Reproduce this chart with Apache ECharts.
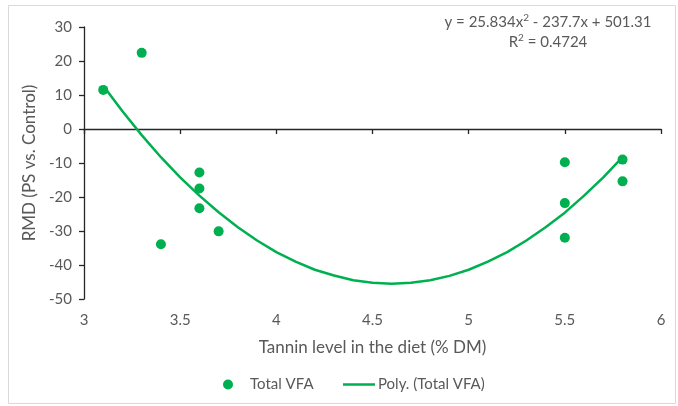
<!DOCTYPE html>
<html><head><meta charset="utf-8">
<script src="https://cdn.jsdelivr.net/npm/echarts@6/dist/echarts.min.js"></script>
<style>html,body{margin:0;padding:0;background:#fff}#c{width:678px;height:406px}</style>
</head><body><div id="c"></div>
<script>
// Observed points: tannin level (% DM) vs RMD
const tanninX = [3.1, 3.3, 3.4, 3.6, 3.6, 3.6, 3.7, 5.5, 5.5, 5.5, 5.8, 5.8];
const rmdY    = [11.5, 22.4, -33.9, -12.8, -17.5, -23.3, -30.1, -9.8, -21.8, -32.0, -9.0, -15.4];
// Trend line points
const trendX = [3.1, 3.2, 3.3, 3.4, 3.5, 3.6, 3.7, 3.8, 3.9, 4.0, 4.1, 4.2, 4.3, 4.4, 4.5, 4.6, 4.7, 4.8, 4.9, 5.0, 5.1, 5.2, 5.3, 5.4, 5.5, 5.6, 5.7, 5.8];
const trendY = [12.7, 5.2, -1.8, -8.3, -14.2, -19.6, -24.5, -28.9, -32.8, -36.2, -39.0, -41.4, -43.1, -44.5, -45.2, -45.5, -45.2, -44.5, -43.2, -41.4, -39.0, -36.2, -32.8, -28.9, -24.6, -19.6, -14.2, -8.3];
const xTicks = {min: 3, max: 6, interval: 0.5};
const yTicks = {min: -50, max: 30, interval: 10};

const FONT = 'Lato';
const TXT = '#595959';
const GREEN = '#00B050';
const AX = '#262626';

const chart = echarts.init(document.getElementById('c'), null, {renderer: 'canvas'});
chart.setOption({
  animation: false,
  backgroundColor: '#fff',
  textStyle: {fontFamily: FONT},
  grid: {left: 84, right: 17, top: 27, bottom: 107, containLabel: false},
  xAxis: [
    {type: 'value', min: xTicks.min, max: xTicks.max, interval: xTicks.interval,
     axisLine: {show: true, onZero: true, lineStyle: {color: AX, width: 1.3}},
     axisTick: {show: true, inside: false, length: 5, lineStyle: {color: AX, width: 1.3}},
     axisLabel: {show: false}, splitLine: {show: false}},
    {type: 'value', min: xTicks.min, max: xTicks.max, interval: xTicks.interval, position: 'bottom',
     axisLine: {show: false, onZero: false}, axisTick: {show: false}, splitLine: {show: false},
     axisLabel: {color: TXT, fontSize: 15, fontFamily: FONT, margin: 14},
     name: 'Tannin level in the diet (% DM)', nameLocation: 'middle', nameGap: 40,
     nameTextStyle: {color: TXT, fontSize: 17, fontFamily: FONT}}
  ],
  yAxis: {type: 'value', min: yTicks.min, max: yTicks.max, interval: yTicks.interval,
    axisLine: {show: true, onZero: false, lineStyle: {color: AX, width: 1.3}},
    axisTick: {show: true, length: 5, lineStyle: {color: AX, width: 1.3}},
    axisLabel: {color: TXT, fontSize: 15, fontFamily: FONT, margin: 12},
    splitLine: {show: false},
    name: 'RMD (PS vs. Control)', nameLocation: 'middle', nameGap: 44, nameRotate: 90,
    nameTextStyle: {color: TXT, fontSize: 17, fontFamily: FONT}},
  legend: [
    {left: 218, top: 372, itemWidth: 10, itemHeight: 10, itemGap: 10,
     textStyle: {color: TXT, fontSize: 15, fontFamily: FONT, padding: [0, 0, 0, 12]},
     data: [{name: 'Total VFA', icon: 'circle'}]},
    {left: 338, top: 372, itemWidth: 32, itemHeight: 2.5, itemGap: 10,
     textStyle: {color: TXT, fontSize: 15, fontFamily: FONT, padding: [0, 0, 0, -2]},
     data: [{name: 'Poly. (Total VFA)', icon: 'rect', itemStyle: {color: GREEN}}]}
  ],
  graphic: [
    {type: 'rect', shape: {x: 8.5, y: 5.5, width: 667, height: 398}, style: {fill: 'none', stroke: '#d9d9d9', lineWidth: 1}, silent: true},
    {type: 'text', x: 548, y: 22, style: {
      text: 'y = 25.834x{s|2} - 237.7x + 501.31', align: 'center', verticalAlign: 'middle',
      fill: TXT, fontSize: 15, fontFamily: FONT,
      rich: {s: {fontSize: 10, verticalAlign: 'top', padding: [0, 0, 8, 0], fill: TXT, fontFamily: FONT}}}},
    {type: 'text', x: 548, y: 42, style: {
      text: 'R{s|2} = 0.4724', align: 'center', verticalAlign: 'middle',
      fill: TXT, fontSize: 15, fontFamily: FONT,
      rich: {s: {fontSize: 10, verticalAlign: 'top', padding: [0, 0, 8, 0], fill: TXT, fontFamily: FONT}}}}
  ],
  series: [
    {name: 'Poly. (Total VFA)', type: 'line', xAxisIndex: 0, smooth: false, symbol: 'none',
     lineStyle: {color: GREEN, width: 2.5}, itemStyle: {color: GREEN},
     data: trendX.map((x, i) => [x, trendY[i]]), z: 2},
    {name: 'Total VFA', type: 'scatter', xAxisIndex: 0, symbol: 'circle', symbolSize: 10,
     itemStyle: {color: GREEN, opacity: 1},
     data: tanninX.map((x, i) => [x, rmdY[i]]), z: 3}
  ]
});
</script></body></html>
